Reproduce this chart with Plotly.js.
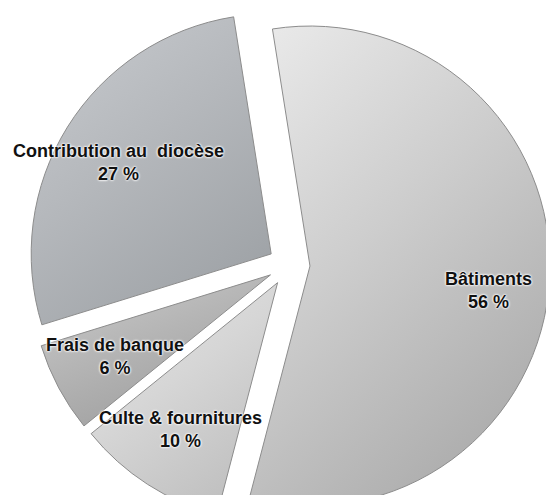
<!DOCTYPE html>
<html>
<head>
<meta charset="utf-8">
<script src="https://cdn.plot.ly/plotly-3.0.1.min.js"></script>
<style>
html, body { margin: 0; padding: 0; overflow: hidden; background: #fff; }
#chart { width: 560px; height: 530px; }
</style>
</head>
<body>
<div id="chart"></div>
<script>
// ---- data ----
var categories = ['Bâtiments', 'Culte & fournitures', 'Frais de banque', 'Contribution au  diocèse'];
var percentValues = [56, 10, 6, 27];
var sliceColors = ['#d2d2d2', '#d6d6d6', '#bcbcbc', '#b2b5b9'];
var gradientStops = [
  ['#ebebeb', '#cdcdcd', '#adadad'],
  ['#e6e6e6', '#d6d6d6', '#c0c0c0'],
  ['#cdcdcd', '#b5b5b5', '#9e9e9e'],
  ['#c9ccd0', '#b5b8bc', '#a0a4a8']
];

// ---- geometry / style ----
var W = 560, H = 530;
var M = {l: 18, r: 0, t: 4, b: 4};
var PULL = 0.0875;
var ROT = -9;
var LABEL_R = 0.82;
var labelAngleShift = [4.5, 0.5, 0.5, -0.8];   // degrees, fine placement of labels
var labelRadiusShift = [0.02, 0, 0, 0.01];

var trace = {
  type: 'pie',
  labels: categories,
  values: percentValues,
  sort: false,
  direction: 'clockwise',
  rotation: ROT,
  pull: percentValues.map(function () { return PULL; }),
  textinfo: 'none',
  hoverinfo: 'none',
  marker: {colors: sliceColors, line: {color: '#8c8c8c', width: 1}},
  showlegend: false
};

// label positions from slice bisectors
var plotW = W - M.l - M.r, plotH = H - M.t - M.b;
var cx = M.l + plotW / 2, cy = M.t + plotH / 2;
var radius = Math.min(plotW, plotH) / (2 + 2 * PULL);
var total = percentValues.reduce(function (a, b) { return a + b; }, 0);
var annotations = [];
var acc = 0;
for (var i = 0; i < categories.length; i++) {
  var mid = (ROT + labelAngleShift[i] + (acc + percentValues[i] / 2) / total * 360) * Math.PI / 180;
  acc += percentValues[i];
  var rr = (LABEL_R + labelRadiusShift[i]) * radius;
  var px = cx + rr * Math.sin(mid);
  var py = cy - rr * Math.cos(mid);
  annotations.push({
    xref: 'paper', yref: 'paper',
    x: (px - M.l) / plotW, y: 1 - (py - M.t) / plotH,
    xanchor: 'center', yanchor: 'middle',
    showarrow: false,
    text: '<b>' + categories[i].replace(/  /g, ' \u00a0') + '<br>' + percentValues[i] + ' %</b>',
    align: 'center',
    font: {family: 'Liberation Sans, Arial, sans-serif', size: 18, color: '#111111',
           shadow: '0 0 2px #ffffff, 0 0 2px #ffffff, 0 0 3px #ffffff'}
  });
}

var layout = {
  width: W, height: H,
  margin: M,
  paper_bgcolor: '#ffffff',
  plot_bgcolor: '#ffffff',
  annotations: annotations
};

Plotly.newPlot('chart', [trace], layout, {staticPlot: true, displayModeBar: false}).then(function (gd) {
  var svg = gd.querySelector('.main-svg');
  var defs = svg.querySelector('defs');
  var NS = 'http://www.w3.org/2000/svg';
  gradientStops.forEach(function (stops, k) {
    var g = document.createElementNS(NS, 'linearGradient');
    g.setAttribute('id', 'sliceGrad' + k);
    g.setAttribute('x1', '0'); g.setAttribute('y1', '0');
    g.setAttribute('x2', '0.6'); g.setAttribute('y2', '1');
    stops.forEach(function (c, j) {
      var s = document.createElementNS(NS, 'stop');
      s.setAttribute('offset', (j / (stops.length - 1)).toString());
      s.setAttribute('stop-color', c);
      g.appendChild(s);
    });
    defs.appendChild(g);
  });
  var paths = gd.querySelectorAll('.slice path.surface');
  paths.forEach(function (p, k) {
    if (k < gradientStops.length) p.style.fill = 'url(#sliceGrad' + k + ')';
  });
});
</script>
</body>
</html>
